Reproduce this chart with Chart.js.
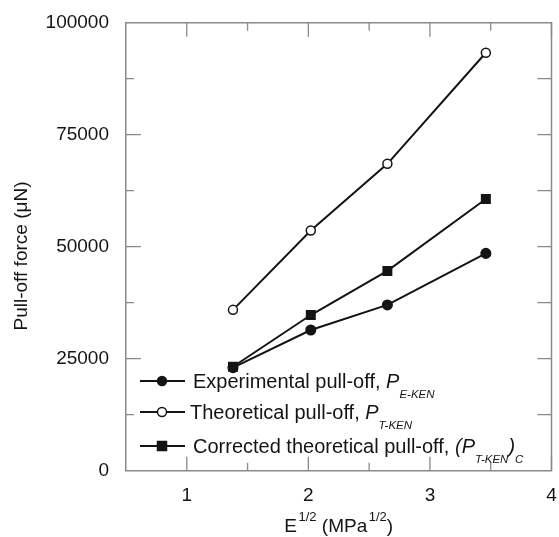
<!DOCTYPE html>
<html lang="en">
  <head>
    <meta charset="UTF-8" />
    <title>Pull-off force vs E^1/2</title>
    <style>
      html,
      body {
        margin: 0;
        padding: 0;
        background: #fff;
      }
    </style>
  </head>
  <body>
    <canvas id="chart" width="559" height="537"></canvas>

    <script src="https://cdn.jsdelivr.net/npm/chart.js@4.4.0/dist/chart.umd.min.js"></script>
    <script>
      // values
      const xVals = [1.38, 2.02, 2.65, 3.46];
      const experimental = [23000, 31400, 37000, 48500];
      const theoretical = [35900, 53600, 68500, 93300];
      const corrected = [23200, 34750, 44600, 60650];
      const xTicks = [1, 2, 3, 4];
      const yTicks = [0, 25000, 50000, 75000, 100000];

      const FONT = "'Liberation Sans', Arial, sans-serif";
      const AXIS = "#8a8a8a";
      const INK = "#141414";

      function pts(ys) {
        return xVals.map((x, i) => ({ x: x, y: ys[i] }));
      }

      // frame on top/right + inward tick marks on all four sides
      const frameTicks = {
        id: "frameTicks",
        afterDraw(chart) {
          const { ctx, chartArea: a } = chart;
          const xs = chart.scales.x;
          const ys = chart.scales.y;
          ctx.save();
          ctx.strokeStyle = AXIS;
          ctx.lineWidth = 1.5;
          ctx.beginPath();
          ctx.moveTo(a.left, a.top);
          ctx.lineTo(a.right, a.top);
          ctx.lineTo(a.right, a.bottom);
          ctx.stroke();
          ctx.lineWidth = 1.3;
          ctx.beginPath();
          for (let v = 1; v <= 4.001; v += 0.5) {
            const px = xs.getPixelForValue(v);
            const len = Number.isInteger(v) ? 14 : 8;
            ctx.moveTo(px, a.bottom);
            ctx.lineTo(px, a.bottom - len);
            ctx.moveTo(px, a.top);
            ctx.lineTo(px, a.top + len);
          }
          for (let v = 12500; v < 100000; v += 12500) {
            const py = ys.getPixelForValue(v);
            const len = v % 25000 === 0 ? 15 : 8;
            ctx.moveTo(a.left, py);
            ctx.lineTo(a.left + len, py);
            ctx.moveTo(a.right, py);
            ctx.lineTo(a.right - 14, py);
          }
          ctx.stroke();
          ctx.restore();
        },
      };

      // text with sub/superscript pieces
      function drawRich(ctx, x, y, parts) {
        parts.forEach((p) => {
          ctx.font = (p.italic ? "italic " : "") + p.size + "px " + FONT;
          x += p.gap || 0;
          ctx.fillText(p.t, x, y + (p.dy || 0));
          x += ctx.measureText(p.t).width;
        });
        return x;
      }

      function richWidth(ctx, parts) {
        let w = 0;
        parts.forEach((p) => {
          ctx.font = (p.italic ? "italic " : "") + p.size + "px " + FONT;
          w += ctx.measureText(p.t).width + (p.gap || 0);
        });
        return w;
      }

      const legendRows = [
        {
          y: 381,
          style: "circle",
          fill: true,
          tx: 193,
          parts: [
            { t: "Experimental pull-off, ", size: 20 },
            { t: "P", size: 20, italic: true },
            { t: "E-KEN", size: 11.5, italic: true, dy: 10 },
          ],
        },
        {
          y: 412,
          style: "circle",
          fill: false,
          tx: 190,
          parts: [
            { t: "Theoretical pull-off, ", size: 20 },
            { t: "P", size: 20, italic: true },
            { t: "T-KEN", size: 11.5, italic: true, dy: 10 },
          ],
        },
        {
          y: 446,
          style: "rect",
          fill: true,
          tx: 193,
          parts: [
            { t: "Corrected theoretical pull-off, ", size: 20 },
            { t: "(P", size: 20, italic: true },
            { t: "T-KEN", size: 11.5, italic: true, dy: 10 },
            { t: ")", size: 20, italic: true },
            { t: "C", size: 11.5, italic: true, dy: 10 },
          ],
        },
      ];

      const textLayer = {
        id: "textLayer",
        afterDraw(chart) {
          const { ctx, chartArea: a } = chart;
          ctx.save();
          ctx.fillStyle = INK;
          ctx.strokeStyle = INK;
          ctx.textBaseline = "alphabetic";
          ctx.textAlign = "left";

          legendRows.forEach((r) => {
            ctx.lineWidth = 2;
            ctx.beginPath();
            ctx.moveTo(140, r.y);
            ctx.lineTo(185, r.y);
            ctx.stroke();
            ctx.beginPath();
            if (r.style === "rect") {
              ctx.rect(162 - 4.5, r.y - 4.5, 9, 9);
            } else {
              ctx.arc(162, r.y, 4.5, 0, Math.PI * 2);
            }
            ctx.fillStyle = r.fill ? INK : "#fff";
            ctx.fill();
            ctx.lineWidth = 1.5;
            ctx.stroke();
            ctx.fillStyle = INK;
            drawRich(ctx, r.tx, r.y + 7, r.parts);
          });

          // x axis title with superscripts
          const xt = [
            { t: "E", size: 19 },
            { t: "1/2", size: 13, dy: -11, gap: 1.5 },
            { t: " (MPa", size: 19 },
            { t: "1/2", size: 13, dy: -11, gap: 1.5 },
            { t: ")", size: 19 },
          ];
          const cx = (a.left + a.right) / 2;
          drawRich(ctx, cx - richWidth(ctx, xt) / 2, 532, xt);

          // y axis title
          ctx.translate(27, 256);
          ctx.rotate(-Math.PI / 2);
          ctx.textAlign = "center";
          ctx.font = "19px " + FONT;
          ctx.fillText("Pull-off force (\u03bcN)", 0, 0);
          ctx.restore();
        },
      };

      const common = {
        borderColor: INK,
        borderWidth: 2,
        pointBorderColor: INK,
        pointBorderWidth: 1.5,
        showLine: true,
        tension: 0,
      };

      new Chart(document.getElementById("chart"), {
        type: "scatter",
        data: {
          datasets: [
            {
              ...common,
              label: "Theoretical pull-off, P T-KEN",
              data: pts(theoretical),
              pointStyle: "circle",
              pointRadius: 4.5,
              pointBackgroundColor: "#fff",
            },
            {
              ...common,
              label: "Experimental pull-off, P E-KEN",
              data: pts(experimental),
              pointStyle: "circle",
              pointRadius: 4.8,
              pointBackgroundColor: INK,
            },
            {
              ...common,
              label: "Corrected theoretical pull-off, (P T-KEN)C",
              data: pts(corrected),
              pointStyle: "rect",
              pointRadius: 6,
              pointBackgroundColor: INK,
            },
          ],
        },
        options: {
          responsive: false,
          animation: false,
          layout: { padding: { top: 22.7, right: 7.3, left: 0, bottom: 0 } },
          plugins: {
            legend: { display: false },
            tooltip: { enabled: false },
          },
          scales: {
            x: {
              type: "linear",
              min: 0.5,
              max: 4,
              afterBuildTicks: (s) => {
                s.ticks = xTicks.map((v) => ({ value: v }));
              },
              afterFit: (s) => {
                s.height = 66.3;
                s.paddingLeft = 0;
                s.paddingRight = 0;
              },
              grid: { display: false, drawTicks: false },
              border: { display: true, color: AXIS, width: 1.5 },
              ticks: {
                padding: 14,
                color: INK,
                font: { family: FONT, size: 19 },
                callback: (v) => String(v),
              },
            },
            y: {
              min: 0,
              max: 100000,
              afterBuildTicks: (s) => {
                s.ticks = yTicks.map((v) => ({ value: v }));
              },
              afterFit: (s) => {
                s.width = 126;
                s.paddingTop = 0;
                s.paddingBottom = 0;
              },
              grid: { display: false, drawTicks: false },
              border: { display: true, color: AXIS, width: 1.5 },
              ticks: {
                padding: 17,
                color: INK,
                font: { family: FONT, size: 19 },
                callback: (v) => String(v),
              },
            },
          },
        },
        plugins: [frameTicks, textLayer],
      });
    </script>
  </body>
</html>
